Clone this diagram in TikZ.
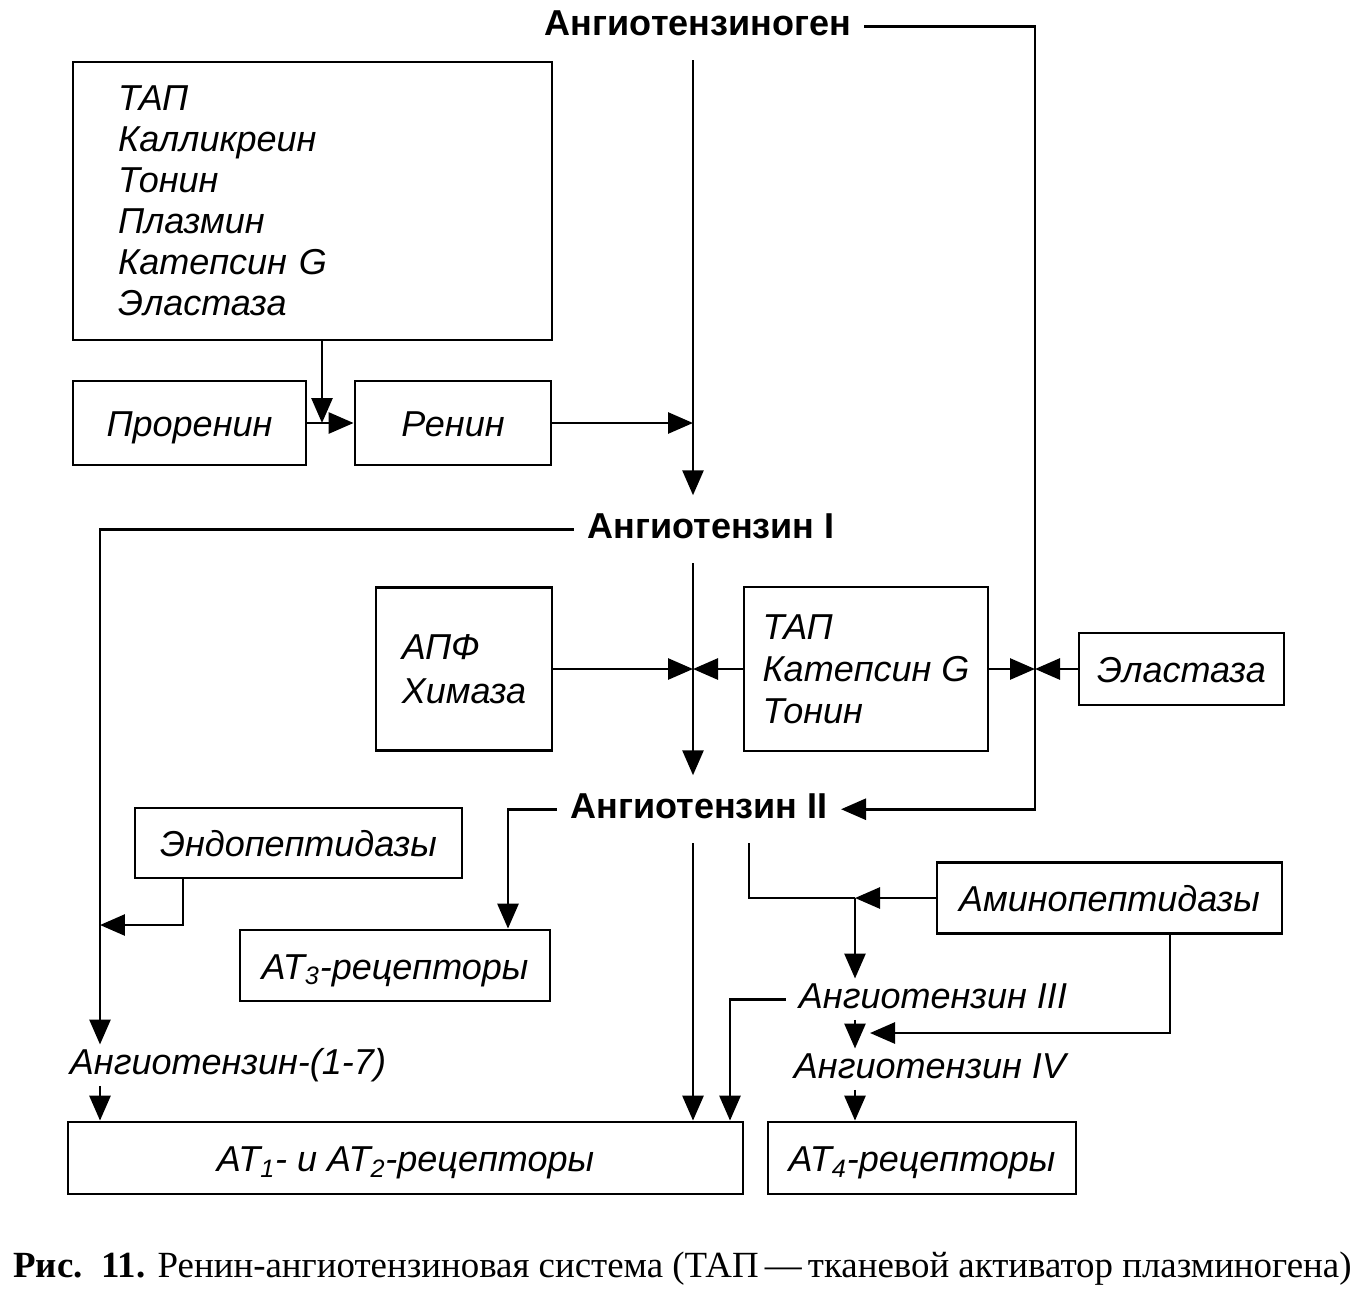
\documentclass[tikz,border=0pt]{standalone}
\usepackage{fontspec}
\setmainfont{Liberation Serif}
\setsansfont{Liberation Sans}
\usetikzlibrary{arrows.meta}

\newcommand{\fnt}{\sffamily\fontsize{20.5}{23.5}\selectfont}

\begin{document}
\begin{tikzpicture}[x=0.02cm,y=-0.02cm,line width=1.6pt,
  arr/.style={-{Triangle[length=0.5cm,width=0.42cm]}},
  box/.style={draw, font=\fnt\itshape, inner sep=0pt},
  sbox/.style={box, text height=15.4pt, text depth=0pt},
  lst/.style={box, align=left},
  bold/.style={font=\fnt\bfseries, inner xsep=0.24cm, inner ysep=0.3cm, text height=15pt, text depth=5pt, anchor=base},
  ital/.style={font=\fnt\itshape, inner xsep=0.24cm, inner ysep=1pt, text height=15pt, text depth=5pt, anchor=base}]

\useasboundingbox (0,0) rectangle (1356,1292);

% peptides
\node[bold] (ag) at (698,35) {Ангиотензиноген};
\node[bold] (a1) at (711,538) {Ангиотензин I};
\node[bold] (a2) at (699,818) {Ангиотензин II};
\node[ital] (a3) at (933,1008) {Ангиотензин III};
\node[ital] (a4) at (930,1078) {Ангиотензин IV};
\node[ital] (a17) at (228,1074) {Ангиотензин-(1-7)};

% enzymes and receptors
\node[lst, inner xsep=0.9cm, text width=7.78cm, minimum height=5.56cm,
  font=\sffamily\itshape\fontsize{20.5}{23.3}\selectfont] (tal) at (312.5,201)
  {ТАП\\ Калликреин\\ Тонин\\ Плазмин\\ Катепсин G\\ Эластаза};
\node[sbox, minimum width=4.66cm, minimum height=1.68cm] (pro) at (189.5,423) {Проренин};
\node[sbox, minimum width=3.92cm, minimum height=1.68cm] (ren) at (453,423) {Ренин};
\node[lst, minimum width=3.52cm, minimum height=3.26cm,
  font=\sffamily\itshape\fontsize{20.5}{25}\selectfont] (apf) at (464,669) {АПФ\\ Химаза};
\node[lst, minimum width=4.88cm, minimum height=3.28cm,
  font=\sffamily\itshape\fontsize{20.5}{23.9}\selectfont] (tap) at (866,669) {ТАП\\ Катепсин G\\ Тонин};
\node[sbox, minimum width=4.1cm, minimum height=1.44cm] (ela) at (1181.5,669) {Эластаза};
\node[sbox, minimum width=6.54cm, minimum height=1.4cm] (endo) at (298.5,843) {Эндопептидазы};
\node[sbox, minimum width=6.2cm, minimum height=1.42cm] (at3) at (395,965.5) {AT\textsubscript{3}-рецепторы};
\node[sbox, minimum width=6.9cm, minimum height=1.42cm] (amino) at (1109.5,898) {Аминопептидазы};
\node[sbox, minimum width=13.5cm, minimum height=1.44cm] (at12) at (405.5,1158) {AT\textsubscript{1}- и AT\textsubscript{2}-рецепторы};
\node[sbox, minimum width=6.16cm, minimum height=1.44cm] (at4) at (922,1158) {AT\textsubscript{4}-рецепторы};

% junctions
\coordinate (j1) at (322,423);
\coordinate (mx) at (693,423);
\coordinate (rx) at (1035,669);
\coordinate (lx) at (100,925);
\coordinate (ex) at (183,925);
\coordinate (tx) at (508,930);
\coordinate (vx) at (749,898);
\coordinate (kx) at (855,898);
\coordinate (qx) at (1170,1033);
\coordinate (qe) at (870,1033);
\coordinate (wx) at (730,997);

% connectors
\draw[arr] (tal.south -| j1) -- (j1);
\draw[arr] (pro.east) -- (ren.west);
\draw[arr] (ren.east) -- (ren.east -| mx);
\draw[arr] (ag.south -| mx) -- (a1.north -| mx);
\draw[arr] (a1.west) -| (a17.north -| lx);
\draw[arr] (a1.south -| mx) -- (a2.north -| mx);
\draw[arr] (apf.east) -- (apf.east -| mx);
\draw[arr] (tap.west) -- (tap.west -| mx);
\draw[arr] (ag.east) -| (rx) |- (a2.east);
\draw[arr] (tap.east) -- (rx);
\draw[arr] (ela.west) -- (rx);
\draw[arr] (endo.south -| ex) |- (lx);
\draw[arr] (a2.west) -| (at3.north -| tx);
\draw[arr] (a2.south -| mx) -- (at12.north -| mx);
\draw (a2.south -| vx) |- (kx);
\draw[arr] (amino.west) -- (kx);
\draw[arr] (kx) -- (a3.north -| kx);
\draw[arr] (amino.south -| qx) |- (qe);
\draw[arr] (a3.south -| kx) -- (a4.north -| kx);
\draw[arr] (a4.south -| kx) -- (at4.north -| kx);
\draw[arr] (a3.west) -| (at12.north -| wx);
\draw[arr] (a17.south -| lx) -- (at12.north -| lx);

% caption
\node[anchor=base west, inner sep=0pt, font=\rmfamily\fontsize{21}{24}\selectfont] (cap) at (12,1277)
  {\textbf{Рис.\ \ 11.} Ренин-ангиотензиновая система (ТАП\,—\,тканевой активатор плазминогена)};
\end{tikzpicture}
\end{document}
